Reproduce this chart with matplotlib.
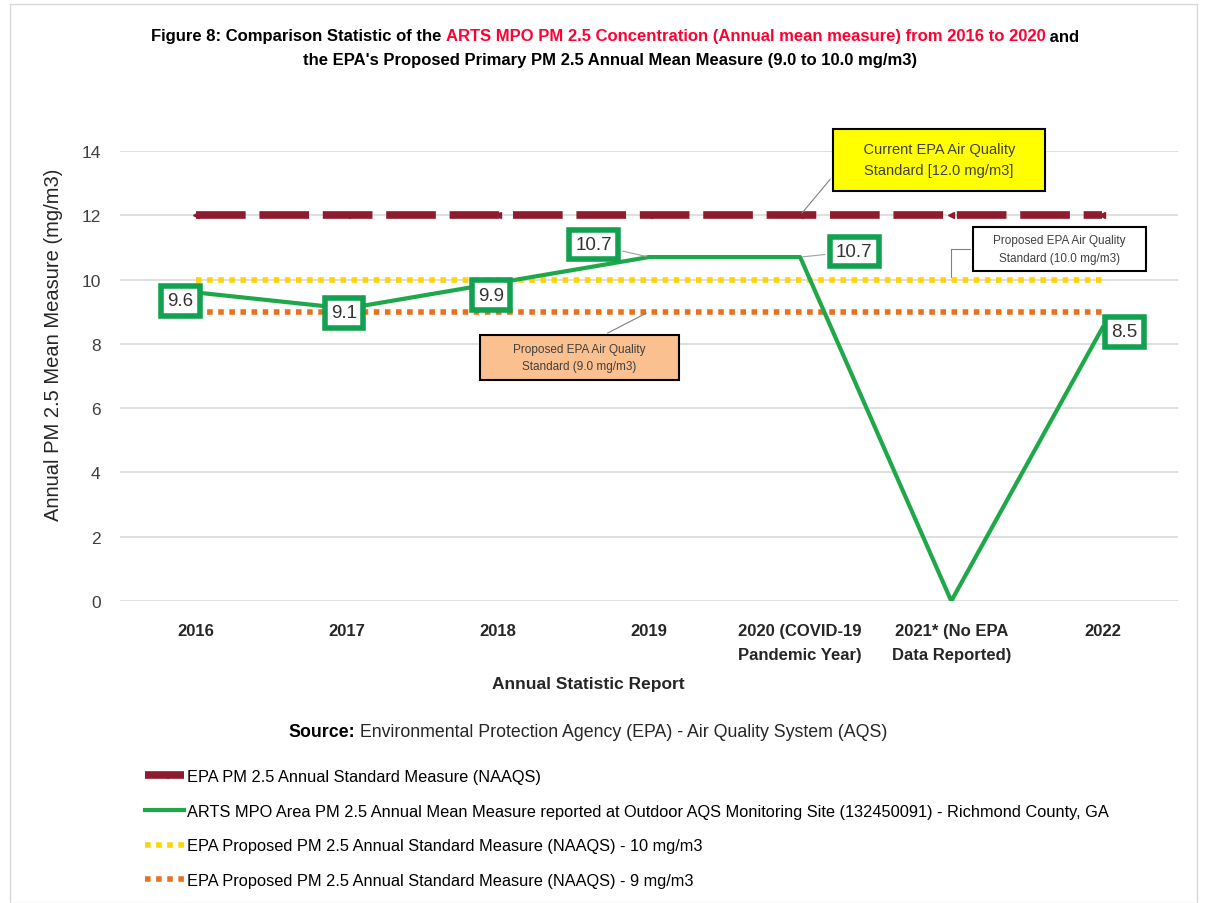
import matplotlib
matplotlib.use("Agg")
import matplotlib.pyplot as plt
from matplotlib.patches import Rectangle

plt.rcParams['font.family'] = ['Liberation Sans', 'DejaVu Sans']

# === data ===
categories = ["2016", "2017", "2018", "2019", "2020 (COVID-19\nPandemic Year)",
              "2021* (No EPA\nData Reported)", "2022"]
arts_pm25 = [9.6, 9.1, 9.9, 10.7, 10.7, 0.0, 8.5]
naaqs_current = [12.0, 12.0, 12.0, 12.0, 12.0, 12.0, 12.0]
naaqs_prop_10 = [10.0, 10.0, 10.0, 10.0, 10.0, 10.0, 10.0]
naaqs_prop_9 = [9.0, 9.0, 9.0, 9.0, 9.0, 9.0, 9.0]
yticks = [0, 2, 4, 6, 8, 10, 12, 14]

labels_legend = [
    "EPA PM 2.5 Annual Standard Measure (NAAQS)",
    "ARTS MPO Area PM 2.5 Annual Mean Measure reported at Outdoor AQS Monitoring Site (132450091) - Richmond County, GA",
    "EPA Proposed PM 2.5 Annual Standard Measure (NAAQS) - 10 mg/m3",
    "EPA Proposed PM 2.5 Annual Standard Measure (NAAQS) - 9 mg/m3",
]

# label offsets (points) for the ARTS values, None = no label
label_offsets = [(-11, -6), (-2, -3), (-5, -9), (-40, 9), (39, 4), None, (16, -3)]
leader = [False, False, False, True, True, False, False]

GREEN = "#1EA84A"
BOXGREEN = "#12A150"
MAROON = "#8E1B2E"
YELLOW = "#FFD400"
ORANGE = "#E9701E"

W, H = 1210, 904
fig = plt.figure(figsize=(W / 100, H / 100), dpi=100)
fig.patches.append(Rectangle((10 / W, 0), 1187 / W, 1 - 5 / H, transform=fig.transFigure,
                             fill=False, edgecolor="#D9D9D9", lw=1))

ax = fig.add_axes([120 / W, 1 - 602 / H, 1058 / W, 450 / H])
x = list(range(len(categories)))

l_cur, = ax.plot(x, naaqs_current, color=MAROON, lw=5.5, dashes=(6.5, 1.8), marker="<", ms=5,
                 dash_capstyle="butt", zorder=3)
l_10, = ax.plot(x, naaqs_prop_10, color=YELLOW, lw=4, linestyle=(0, (1, 1)), zorder=3)
l_9, = ax.plot(x, naaqs_prop_9, color=ORANGE, lw=4, linestyle=(0, (1, 1)), zorder=3)
l_arts, = ax.plot(x, arts_pm25, color=GREEN, lw=3, zorder=4)

for i, (v, off) in enumerate(zip(arts_pm25, label_offsets)):
    if off is None:
        continue
    arrow = dict(arrowstyle="-", color="#A0A0A0", lw=0.8) if leader[i] else None
    ax.annotate(f"{v:.1f}", xy=(i, v), xytext=off, textcoords="offset points",
                ha="center", va="center", fontsize=13.5, color="#333333", zorder=6,
                bbox=dict(boxstyle="square,pad=0.34", fc="white", ec=BOXGREEN, lw=4),
                arrowprops=arrow)

# callouts for the standards
ax.annotate("    Current EPA Air Quality    \nStandard [12.0 mg/m3]", xy=(4, 12), xytext=(100, 40),
            textcoords="offset points", ha="center", va="center", fontsize=10.5, color="#404040",
            linespacing=1.6, zorder=7,
            bbox=dict(boxstyle="square,pad=0.95", fc="#FFFF00", ec="black", lw=1.5),
            arrowprops=dict(arrowstyle="-", color="#808080", lw=0.8, relpos=(0, 0.5)))
ax.annotate("    Proposed EPA Air Quality    \nStandard (10.0 mg/m3)", xy=(5, 10), xytext=(78, 22),
            textcoords="offset points", ha="center", va="center", fontsize=8.5, color="#404040",
            linespacing=1.6, zorder=7,
            bbox=dict(boxstyle="square,pad=0.6", fc="white", ec="black", lw=1.5),
            arrowprops=dict(arrowstyle="-", color="#808080", lw=0.8, relpos=(0, 0.5),
                            connectionstyle="angle,angleA=0,angleB=90,rad=0"))
ax.annotate("        Proposed EPA Air Quality        \nStandard (9.0 mg/m3)", xy=(3, 9), xytext=(-50, -33),
            textcoords="offset points", ha="center", va="center", fontsize=8.5, color="#404040",
            linespacing=1.6, zorder=7,
            bbox=dict(boxstyle="square,pad=0.65", fc="#FAC08F", ec="black", lw=1.5),
            arrowprops=dict(arrowstyle="-", color="#808080", lw=0.8, relpos=(0.55, 1)))

ax.set_xlim(-0.5, 6.5)
ax.set_ylim(0, 14)
ax.set_yticks(yticks)
ax.set_xticks(x)
ax.set_xticklabels(categories, fontsize=12, fontweight="bold", color="#262626", linespacing=1.75)
ax.tick_params(axis="y", labelsize=12.5, colors="#404040", length=0, pad=14)
ax.tick_params(axis="x", length=0, pad=16)
ax.grid(axis="y", color="#D9D9D9", lw=1.2)
ax.set_axisbelow(True)
for s in ax.spines.values():
    s.set_visible(False)
ax.set_ylabel("Annual PM 2.5 Mean Measure (mg/m3)", fontsize=14.5, color="#262626")
ax.yaxis.set_label_coords(-0.054, 0.571)
fig.text(588 / W, 1 - 685 / H, "Annual Statistic Report", ha="center", va="center",
         fontsize=12.5, fontweight="bold", color="#262626")

renderer = fig.canvas.get_renderer()


def text_width(s, **kw):
    # advance width including trailing blanks
    t1 = fig.text(0, 0, s + "|", **kw)
    t2 = fig.text(0, 0, "|", **kw)
    w = t1.get_window_extent(renderer).width - t2.get_window_extent(renderer).width
    t1.remove()
    t2.remove()
    return w


def mixed_line(cx, cy, parts, size):
    widths = [text_width(s, fontsize=size, fontweight=wt) for s, c, wt in parts]
    xpos = cx - sum(widths) / 2
    for (s, c, wt), w in zip(parts, widths):
        fig.text(xpos / W, 1 - cy / H, s, color=c, fontsize=size, fontweight=wt, va="center")
        xpos += w


RED = "#FF0033"
mixed_line(615, 37, [("Figure 8: Comparison Statistic of the ", "black", "bold"),
                     ("ARTS MPO PM 2.5 Concentration (Annual mean measure) from 2016 to 2020", RED, "bold"),
                     (" and", "black", "bold")], 12)
mixed_line(610, 60, [("the EPA's Proposed Primary PM 2.5 Annual Mean Measure (9.0 to 10.0 mg/m3)",
                      "black", "bold")], 12)
mixed_line(588, 733, [("Source:", "black", "bold"),
                      (" Environmental Protection Agency (EPA) - Air Quality System (AQS)", "#262626", "normal")],
           12.8)

fig.legend([l_cur, l_arts, l_10, l_9], labels_legend, loc="upper left",
           bbox_to_anchor=(145 / W, 1 - 770 / H), frameon=False, fontsize=11.8,
           handlelength=2.4, handletextpad=0.15, labelspacing=1.2, borderpad=0, borderaxespad=0)

fig.savefig("out.png", dpi=100)
